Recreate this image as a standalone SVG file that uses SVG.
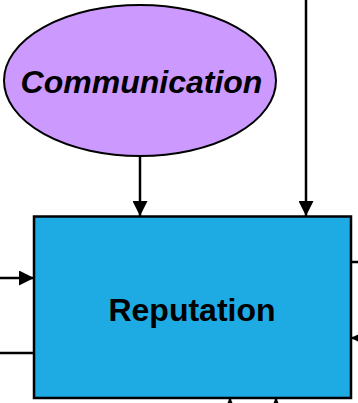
<svg xmlns="http://www.w3.org/2000/svg" width="358" height="403" viewBox="0 0 358 403">
  <style>
    .conn { stroke: #000; stroke-width: 2.5; fill: none; }
    .lbl { font-family: "Liberation Sans", Arial, sans-serif; font-weight: bold; fill: #000; text-anchor: middle; }
  </style>
  <defs>
    <marker id="arrow" viewBox="0 0 10 10" refX="10" refY="5" markerWidth="6" markerHeight="6" markerUnits="strokeWidth" orient="auto">
      <path d="M0,0 L10,5 L0,10 Z" fill="#000"/>
    </marker>
  </defs>
  <rect width="358" height="403" fill="#fff"/>

  <g id="connectors">
    <line class="conn" x1="140" y1="156" x2="140" y2="216" marker-end="url(#arrow)"/>
    <line class="conn" x1="306" y1="0" x2="306" y2="216" marker-end="url(#arrow)"/>
    <line class="conn" x1="0" y1="278" x2="34" y2="278" marker-end="url(#arrow)"/>
    <line class="conn" x1="0" y1="353" x2="34" y2="353"/>
    <line class="conn" x1="351" y1="262" x2="360" y2="262"/>
    <line class="conn" x1="372" y1="338" x2="351" y2="338" marker-end="url(#arrow)"/>
    <line class="conn" x1="230" y1="420" x2="230" y2="398" marker-end="url(#arrow)"/>
    <line class="conn" x1="276" y1="420" x2="276" y2="398" marker-end="url(#arrow)"/>
  </g>

  <g id="communication">
    <ellipse cx="140" cy="80.5" rx="136" ry="75.5" fill="#CC99FF" stroke="#000" stroke-width="2"/>
    <text class="lbl" x="141.5" y="92.5" font-size="32" font-style="italic">Communication</text>
  </g>

  <g id="reputation">
    <rect x="34" y="216.5" width="317" height="181.5" fill="#1EAAE2" stroke="#000" stroke-width="2.5"/>
    <text class="lbl" x="192" y="320.5" font-size="32">Reputation</text>
  </g>
</svg>
